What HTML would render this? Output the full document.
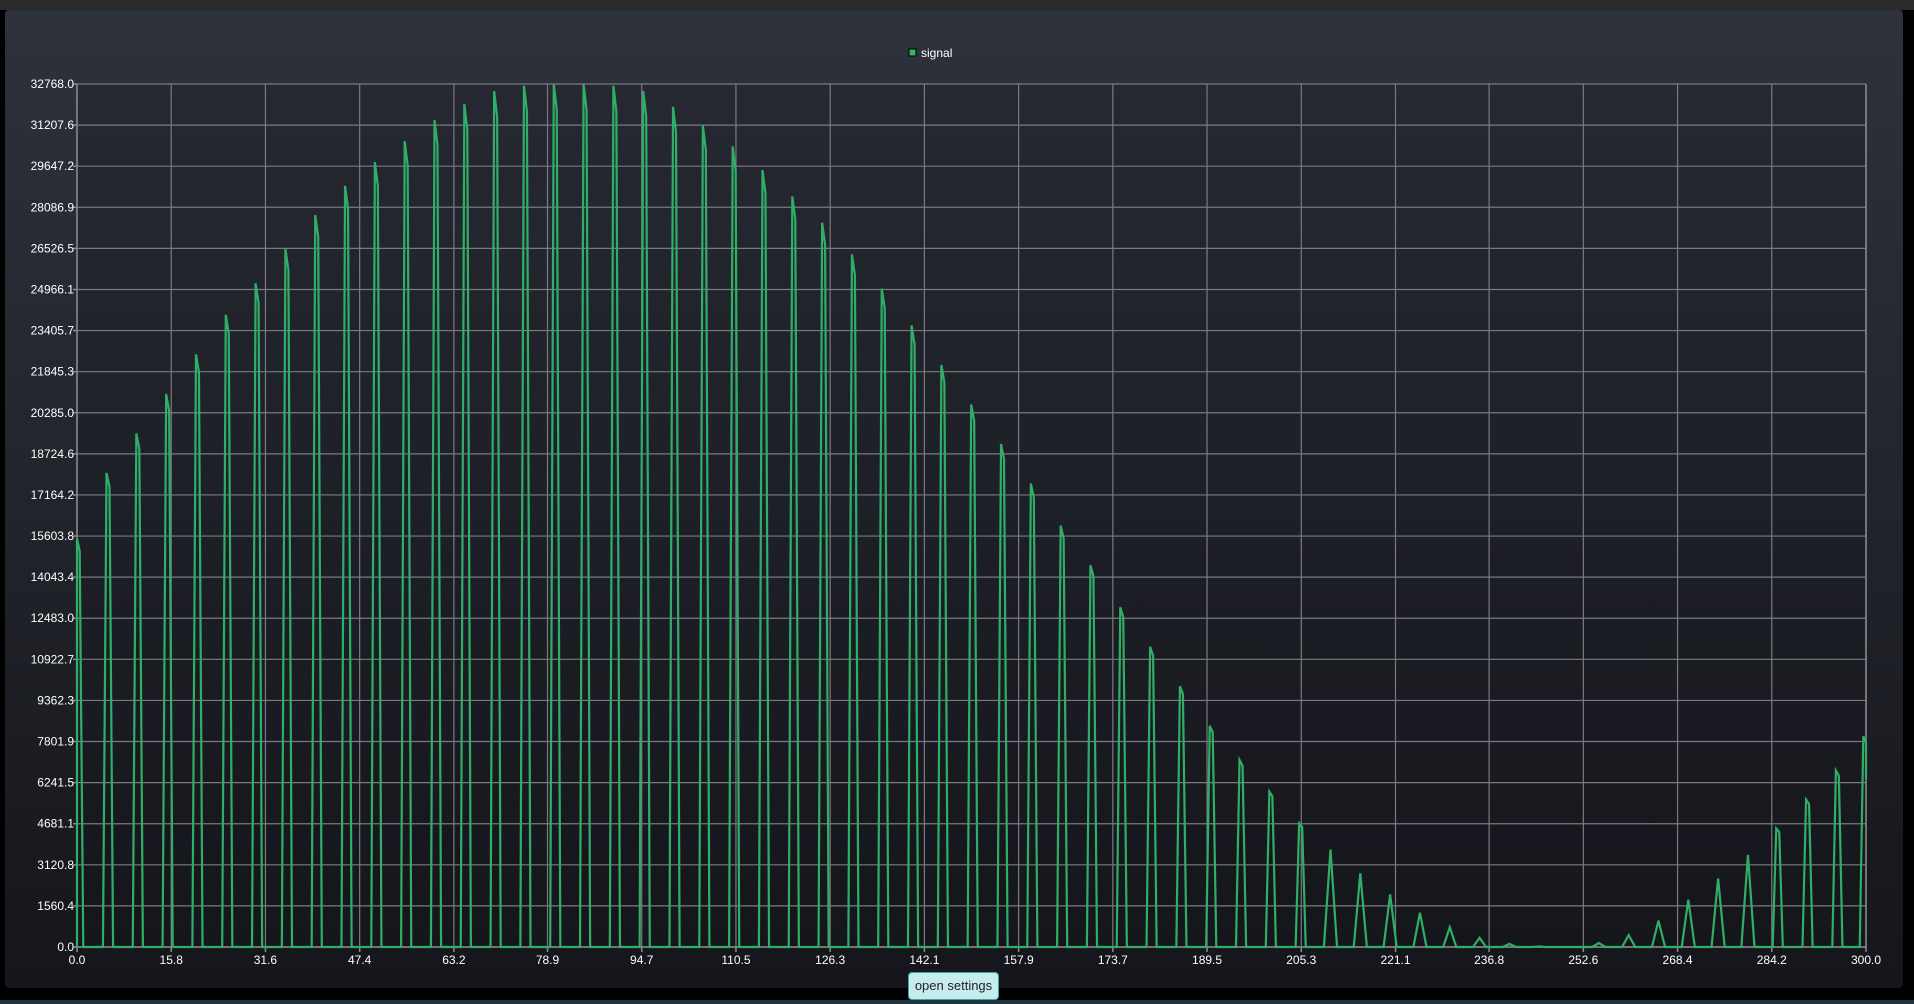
<!DOCTYPE html>
<html><head><meta charset="utf-8"><style>
html,body{margin:0;padding:0;width:1914px;height:1004px;overflow:hidden;background:#000;font-family:"Liberation Sans",sans-serif}
#topbar{position:absolute;left:0;top:0;width:1914px;height:10px;background:#2b2b2b}
#bottomstrip{position:absolute;left:0;top:1000px;width:1914px;height:4px;background:#1e3440}
#panel{position:absolute;left:5px;top:10px;width:1898px;height:978px;border-radius:4px;background:linear-gradient(#2e323b,#15161b)}
#chart{position:absolute;left:0;top:0}
#btn{position:absolute;left:908px;top:972px;width:89px;height:26px;background:#c6ecee;border:1px solid #3aa7a7;border-radius:4px;font-size:13px;color:#222;text-align:center;line-height:26px}
</style></head><body>
<div id="topbar"></div>
<div id="panel"></div>
<svg id="chart" width="1914" height="1004"></svg>
<div id="btn">open settings</div>
<div id="bottomstrip"></div>
<script>
const yTicks=[0.0,1560.4,3120.8,4681.1,6241.5,7801.9,9362.3,10922.7,12483.0,14043.4,15603.8,17164.2,18724.6,20285.0,21845.3,23405.7,24966.1,26526.5,28086.9,29647.2,31207.6,32768.0];
const xTicks=[0.0,15.8,31.6,47.4,63.2,78.9,94.7,110.5,126.3,142.1,157.9,173.7,189.5,205.3,221.1,236.8,252.6,268.4,284.2,300.0];
const peakX=[0.2,5.2,10.2,15.2,20.2,25.2,30.2,35.2,40.2,45.2,50.2,55.2,60.2,65.2,70.2,75.2,80.2,85.2,90.2,95.2,100.2,105.2,110.2,115.2,120.2,125.2,130.2,135.2,140.2,145.2,150.2,155.2,160.2,165.2,170.2,175.2,180.2,185.2,190.2,195.2,200.2,205.2,210.2,215.2,220.2,225.2,230.2,235.2,240.2,245.2,250.2,255.2,260.2,265.2,270.2,275.2,280.2,285.2,290.2,295.2,299.8];
const peakY=[15500,18000,19500,21000,22500,24000,25200,26500,27800,28900,29800,30600,31400,32000,32500,32700,32768,32768,32700,32500,31900,31200,30400,29500,28500,27500,26300,25000,23600,22100,20600,19100,17600,16000,14500,12900,11400,9900,8400,7100,5900,4700,3700,2800,2000,1300,750,350,120,20,0,150,450,1000,1800,2600,3500,4500,5600,6700,8000];
const L=77,R=1866,T=84,B=947,XMAX=300,YMAX=32768;
const sx=v=>L+(v/XMAX)*(R-L), sy=v=>B-(v/YMAX)*(B-T);
const svg=document.getElementById('chart'),NS='http://www.w3.org/2000/svg';
function mk(t,a){const e=document.createElementNS(NS,t);for(const k in a)e.setAttribute(k,a[k]);svg.appendChild(e);return e;}
const bg=mk('rect',{x:L,y:T,width:R-L,height:B-T,fill:'rgba(20,21,26,0.25)'});


yTicks.forEach(v=>{const y=sy(v);
 const g=mk('line',{x1:L,x2:R,y1:y,y2:y,stroke:'#7a7a80','stroke-width':1.2});
 
 
 const tk=mk('line',{x1:L-4,x2:L,y1:y,y2:y,stroke:'#8a8a90','stroke-width':1.5});
 
 
 const t=mk('text',{x:L-3,y:y+4,fill:'#fff','font-size':12,'text-anchor':'end'});t.textContent=v.toFixed(1);
 
 });
xTicks.forEach(v=>{const x=sx(v);
 const g=mk('line',{x1:x,x2:x,y1:T,y2:B,stroke:'#7a7a80','stroke-width':1.2});
 
 
 const tk=mk('line',{x1:x,x2:x,y1:B,y2:B+5,stroke:'#8a8a90','stroke-width':1.5});
 
 
 const t=mk('text',{x:x,y:B+17,fill:'#fff','font-size':12,'text-anchor':'middle'});t.textContent=v.toFixed(1);
 
 });
const ax=mk('path',{d:`M${L},${T}V${B}H${R}V${T}`,fill:'none',stroke:'#8a8a90','stroke-width':1.5});


let d=`M${sx(0)},${sy(peakY[0]*0.9)}`;
peakX.forEach((px,i)=>{const p=peakY[i];
 if(p>4000){
  const a=Math.max(0,px-0.85),b=Math.max(0,px-0.25),c=Math.min(XMAX,px+0.25),e=px+0.85;
  d+=` L${sx(a)},${sy(0)} L${sx(b)},${sy(p)} L${sx(c)},${sy(p*0.97)}`;
  d+= e>XMAX?` L${sx(XMAX)},${sy(p*0.8)}`:` L${sx(e)},${sy(0)}`;
 } else {
  d+=` L${sx(px-1.1)},${sy(0)} L${sx(px)},${sy(p)} L${sx(px+1.1)},${sy(0)}`;
 }});
const line=mk('path',{d:d,fill:'none',stroke:'#2fae68','stroke-width':2.2,'stroke-linejoin':'miter'});


const ls=mk('rect',{x:909,y:49,width:7,height:7,fill:'#2fb86a',stroke:'#000','stroke-width':1});


const lt=mk('text',{x:921,y:57,fill:'#fff','font-size':12});lt.textContent='signal';


</script>
</body></html>
